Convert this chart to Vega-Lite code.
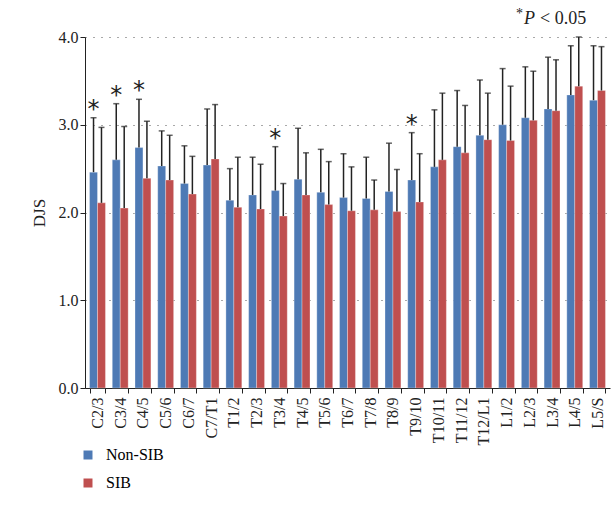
{
  "$schema": "https://vega.github.io/schema/vega-lite/v6.json",
  "autosize": "none",
  "width": 525,
  "height": 351,
  "padding": {"left": 85, "top": 37, "right": 4, "bottom": 134},
  "config": {
    "view": {"stroke": null},
    "font": "Liberation Serif",
    "axis": {"labelFont": "Liberation Serif", "titleFont": "Liberation Serif", "labelColor": "#222", "titleColor": "#222"},
    "legend": {"labelFont": "Liberation Serif"}
  },
  "data": {
    "values": [
      {"seg": "C2/3", "g": "Non-SIB", "mean": 2.46, "upper": 3.08, "sig": true},
      {"seg": "C2/3", "g": "SIB", "mean": 2.11, "upper": 2.97},
      {"seg": "C3/4", "g": "Non-SIB", "mean": 2.60, "upper": 3.24, "sig": true},
      {"seg": "C3/4", "g": "SIB", "mean": 2.05, "upper": 2.98},
      {"seg": "C4/5", "g": "Non-SIB", "mean": 2.74, "upper": 3.29, "sig": true},
      {"seg": "C4/5", "g": "SIB", "mean": 2.39, "upper": 3.04},
      {"seg": "C5/6", "g": "Non-SIB", "mean": 2.53, "upper": 2.93},
      {"seg": "C5/6", "g": "SIB", "mean": 2.37, "upper": 2.88},
      {"seg": "C6/7", "g": "Non-SIB", "mean": 2.33, "upper": 2.76},
      {"seg": "C6/7", "g": "SIB", "mean": 2.21, "upper": 2.64},
      {"seg": "C7/T1", "g": "Non-SIB", "mean": 2.54, "upper": 3.18},
      {"seg": "C7/T1", "g": "SIB", "mean": 2.61, "upper": 3.23},
      {"seg": "T1/2", "g": "Non-SIB", "mean": 2.14, "upper": 2.50},
      {"seg": "T1/2", "g": "SIB", "mean": 2.06, "upper": 2.63},
      {"seg": "T2/3", "g": "Non-SIB", "mean": 2.20, "upper": 2.63},
      {"seg": "T2/3", "g": "SIB", "mean": 2.04, "upper": 2.55},
      {"seg": "T3/4", "g": "Non-SIB", "mean": 2.25, "upper": 2.75, "sig": true},
      {"seg": "T3/4", "g": "SIB", "mean": 1.96, "upper": 2.33},
      {"seg": "T4/5", "g": "Non-SIB", "mean": 2.38, "upper": 2.96},
      {"seg": "T4/5", "g": "SIB", "mean": 2.20, "upper": 2.68},
      {"seg": "T5/6", "g": "Non-SIB", "mean": 2.23, "upper": 2.72},
      {"seg": "T5/6", "g": "SIB", "mean": 2.09, "upper": 2.58},
      {"seg": "T6/7", "g": "Non-SIB", "mean": 2.17, "upper": 2.67},
      {"seg": "T6/7", "g": "SIB", "mean": 2.02, "upper": 2.52},
      {"seg": "T7/8", "g": "Non-SIB", "mean": 2.16, "upper": 2.63},
      {"seg": "T7/8", "g": "SIB", "mean": 2.03, "upper": 2.37},
      {"seg": "T8/9", "g": "Non-SIB", "mean": 2.24, "upper": 2.79},
      {"seg": "T8/9", "g": "SIB", "mean": 2.01, "upper": 2.49},
      {"seg": "T9/10", "g": "Non-SIB", "mean": 2.37, "upper": 2.91, "sig": true},
      {"seg": "T9/10", "g": "SIB", "mean": 2.12, "upper": 2.67},
      {"seg": "T10/11", "g": "Non-SIB", "mean": 2.52, "upper": 3.17},
      {"seg": "T10/11", "g": "SIB", "mean": 2.60, "upper": 3.36},
      {"seg": "T11/12", "g": "Non-SIB", "mean": 2.75, "upper": 3.39},
      {"seg": "T11/12", "g": "SIB", "mean": 2.68, "upper": 3.22},
      {"seg": "T12/L1", "g": "Non-SIB", "mean": 2.88, "upper": 3.51},
      {"seg": "T12/L1", "g": "SIB", "mean": 2.83, "upper": 3.36},
      {"seg": "L1/2", "g": "Non-SIB", "mean": 3.00, "upper": 3.64},
      {"seg": "L1/2", "g": "SIB", "mean": 2.82, "upper": 3.44},
      {"seg": "L2/3", "g": "Non-SIB", "mean": 3.08, "upper": 3.66},
      {"seg": "L2/3", "g": "SIB", "mean": 3.05, "upper": 3.61},
      {"seg": "L3/4", "g": "Non-SIB", "mean": 3.18, "upper": 3.77},
      {"seg": "L3/4", "g": "SIB", "mean": 3.16, "upper": 3.74},
      {"seg": "L4/5", "g": "Non-SIB", "mean": 3.34, "upper": 3.90},
      {"seg": "L4/5", "g": "SIB", "mean": 3.44, "upper": 4.00},
      {"seg": "L5/S", "g": "Non-SIB", "mean": 3.28, "upper": 3.90},
      {"seg": "L5/S", "g": "SIB", "mean": 3.39, "upper": 3.89}
    ]
  },
  "encoding": {
    "x": {
      "field": "seg", "type": "nominal", "sort": null, "title": null,
      "scale": {"paddingInner": 0.3, "paddingOuter": 0.2},
      "axis": {"labelAngle": -90, "labelFontSize": 16, "labelPadding": 4, "domainColor": "#222", "tickColor": "#222", "tickBand": "extent", "tickSize": 5}
    },
    "xOffset": {"field": "g", "type": "nominal", "scale": {"paddingInner": 0}}
  },
  "layer": [
    {
      "mark": {"type": "bar", "stroke": "white", "strokeWidth": 0.5, "strokeOpacity": 0.6},
      "encoding": {
        "y": {
          "field": "mean", "type": "quantitative", "title": "DJS",
          "scale": {"domain": [0, 4]},
          "axis": {"values": [0, 1, 2, 3, 4], "format": ".1f", "labelFontSize": 16, "titleFontSize": 17, "titleFontWeight": "normal", "titlePadding": 10,
            "gridDash": [1, 7], "gridColor": "#555", "gridWidth": 1.2, "domainColor": "#222", "tickColor": "#222", "tickSize": 5}
        },
        "color": {
          "field": "g", "type": "nominal", "title": null,
          "scale": {"domain": ["Non-SIB", "SIB"], "range": ["#4e7ab5", "#bf4f4f"]},
          "legend": {"orient": "none", "legendX": -5, "legendY": 410, "direction": "vertical", "symbolType": "square", "symbolSize": 110, "labelFontSize": 16, "rowPadding": 10, "labelOffset": 10}
        }
      }
    },
    {
      "mark": {"type": "rule", "color": "#222", "strokeWidth": 1.5},
      "encoding": {
        "y": {"field": "mean", "type": "quantitative"},
        "y2": {"field": "upper"}
      }
    },
    {
      "mark": {"type": "tick", "color": "#222", "thickness": 1.5, "size": 6},
      "encoding": {"y": {"field": "upper", "type": "quantitative"}}
    },
    {
      "transform": [{"filter": "datum.sig"}],
      "mark": {"type": "text", "text": "*", "fontSize": 24, "dy": 4, "baseline": "bottom", "color": "#222", "font": "DejaVu Sans"},
      "encoding": {"y": {"field": "upper", "type": "quantitative"}}
    },
    {
      "data": {"values": [{}]},
      "mark": {"type": "text", "align": "left", "baseline": "bottom", "text": "< 0.05", "fontSize": 18, "color": "#222"},
      "encoding": {"x": {"value": 455}, "y": {"value": -9}, "xOffset": {"value": 0}}
    },
    {
      "data": {"values": [{}]},
      "mark": {"type": "text", "align": "right", "baseline": "bottom", "text": "P", "fontSize": 18, "fontStyle": "italic", "color": "#222"},
      "encoding": {"x": {"value": 450}, "y": {"value": -9}, "xOffset": {"value": 0}}
    },
    {
      "data": {"values": [{}]},
      "mark": {"type": "text", "align": "right", "baseline": "bottom", "text": "*", "fontSize": 14, "color": "#222"},
      "encoding": {"x": {"value": 438}, "y": {"value": -16}, "xOffset": {"value": 0}}
    }
  ]
}
